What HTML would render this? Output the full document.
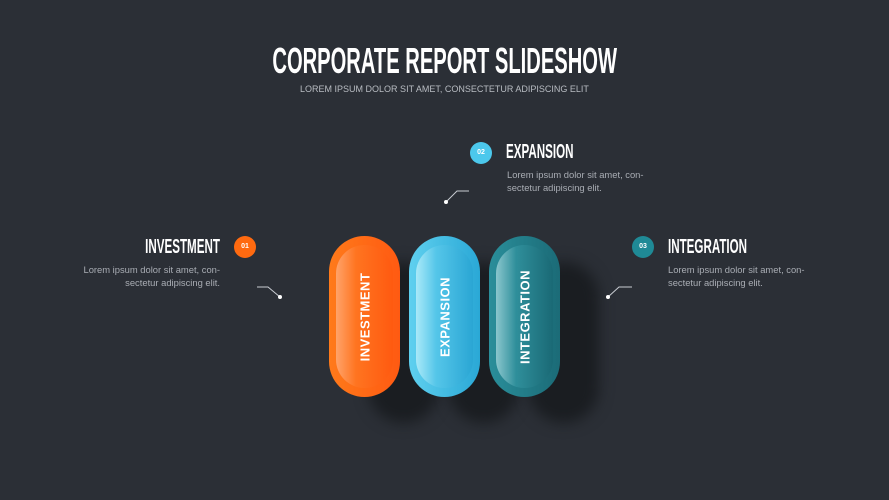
<!DOCTYPE html>
<html><head><meta charset="utf-8"><style>
body{margin:0;width:889px;height:500px;background:#2b2f36;position:relative;overflow:hidden;font-family:"Liberation Sans",sans-serif}
.t{position:absolute;color:#fff;font-weight:bold;white-space:nowrap}
.cond{display:inline-block;transform:scaleX(.58)}
.p{position:absolute;font-size:9.4px;line-height:12.5px;color:#a9adb4;white-space:nowrap}
.pill{position:absolute;width:71px;height:161px;border-radius:36px;top:236px}
.in{position:absolute;left:7px;top:9px;width:57px;height:143px;border-radius:29px}
.lab{position:absolute;left:50%;top:50%;transform:translate(-50%,-50%) rotate(-90deg);color:#fff;font-weight:bold;font-size:13px;letter-spacing:.5px;white-space:nowrap}
.sh{position:absolute;width:71px;height:161px;border-radius:36px;top:262px;background:#1a1d21;filter:blur(7px)}
.num{position:absolute;width:22px;height:22px;border-radius:50%;color:#fff;font-size:7px;text-align:center;line-height:22px;font-weight:bold}
</style></head><body>
<div class="t" style="left:0;width:889px;text-align:center;top:40px;font-size:36px"><span class="cond" style="transform:scaleX(.56)">CORPORATE REPORT SLIDESHOW</span></div>
<div class="p" style="left:0;width:889px;text-align:center;top:83px;font-size:9px;color:#b8bcc2">LOREM IPSUM DOLOR SIT AMET, CONSECTETUR ADIPISCING ELIT</div>

<div class="sh" style="left:368px"></div>
<div class="sh" style="left:448px"></div>
<div class="sh" style="left:528px"></div>

<div class="pill" style="left:329px;background:linear-gradient(90deg,#ff7a1a,#ff5a12)"><div class="in" style="background:linear-gradient(90deg,#ffa36a,#ff7420 35%,#ff5a10)"></div><div class="lab">INVESTMENT</div></div>
<div class="pill" style="left:409px;background:linear-gradient(90deg,#5fd0ef,#2aa8d6)"><div class="in" style="background:linear-gradient(90deg,#a9e9f8,#55c6e9 35%,#2aa6d4)"></div><div class="lab">EXPANSION</div></div>
<div class="pill" style="left:489px;background:linear-gradient(90deg,#2a8e9a,#1b6b77)"><div class="in" style="background:linear-gradient(90deg,#8ac6cd,#2f8f9b 35%,#1a6975)"></div><div class="lab">INTEGRATION</div></div>

<div class="t" style="left:20px;width:200px;text-align:right;top:236px;font-size:20px"><span class="cond" style="transform-origin:right center">INVESTMENT</span></div>
<div class="num" style="left:234px;top:236px;background:#ff6a10">01</div>
<div class="p" style="left:20px;width:200px;text-align:right;top:264px">Lorem ipsum dolor sit amet, con-<br>sectetur adipiscing elit.</div>

<div class="num" style="left:470px;top:142px;background:#4cc8ec">02</div>
<div class="t" style="left:506px;top:141px;font-size:20px"><span class="cond" style="transform-origin:left center">EXPANSION</span></div>
<div class="p" style="left:507px;top:169px">Lorem ipsum dolor sit amet, con-<br>sectetur adipiscing elit.</div>

<div class="num" style="left:632px;top:236px;background:#1f8a96">03</div>
<div class="t" style="left:668px;top:236px;font-size:20px"><span class="cond" style="transform-origin:left center">INTEGRATION</span></div>
<div class="p" style="left:668px;top:264px">Lorem ipsum dolor sit amet, con-<br>sectetur adipiscing elit.</div>

<svg width="889" height="500" style="position:absolute;left:0;top:0" fill="none" stroke="#c8ccd2" stroke-width="1">
<polyline points="257,287 268,287 280,297"/><circle cx="280" cy="297" r="2" fill="#fff" stroke="none"/>
<polyline points="469,191 457,191 446,202"/><circle cx="446" cy="202" r="2" fill="#fff" stroke="none"/>
<polyline points="632,287 619,287 608,297"/><circle cx="608" cy="297" r="2" fill="#fff" stroke="none"/>
</svg>
</body></html>
